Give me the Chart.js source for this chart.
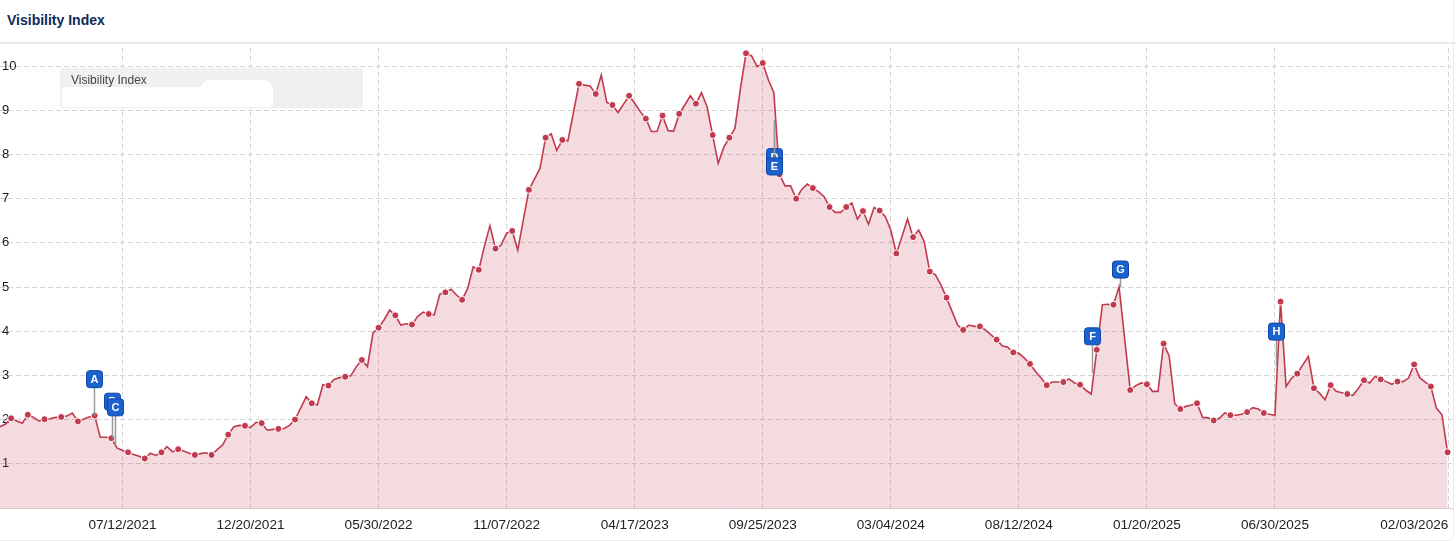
<!DOCTYPE html>
<html>
<head>
<meta charset="utf-8">
<title>Visibility Index</title>
<script src="https://cdn.jsdelivr.net/npm/chart.js@4.4.0/dist/chart.umd.min.js"></script>
<style>
  body { margin: 0; background: #fff; font-family: "Liberation Sans", Arial, sans-serif; }
  #page { position: relative; width: 1456px; height: 541px; overflow: hidden; }
  #panel { position: absolute; left: -10px; top: -10px; width: 1464px; height: 551px; box-sizing: border-box;
           border: 1px solid #ececec; border-radius: 6px; }
  #title { position: absolute; left: 7px; top: 12px; font-size: 14px; line-height: 16px; font-weight: bold; color: #0c2a5b; }
  #sep { position: absolute; left: 0; top: 42px; width: 1456px; height: 2px; background: #ebebeb; }
  #wrap { position: absolute; left: 0; top: 44px; width: 1456px; height: 497px; }
  #legend { position: absolute; left: 60px; top: 68px; width: 303px; height: 40px; background: #f0f0f0; border-radius: 4px; }
  #legend span { position: absolute; left: 11px; top: 5px; font-size: 12px; line-height: 14px; color: #444; }
  .blob { position: absolute; background: #fff; border-radius: 4px; }
</style>
</head>
<body>
<div id="page">
  <div id="panel"></div>
  <div id="title">Visibility Index</div>
  <div id="sep"></div>
  <div id="wrap"><canvas id="chart"></canvas></div>
  <div id="legend">
    <span>Visibility Index</span>
    <div class="blob" style="left:2px; top:19px; width:211px; height:20px;"></div>
    <div class="blob" style="left:140px; top:12px; width:73px; height:27px; border-radius:10px;"></div>
  </div>
</div>
<script>
// weekly values, first one is the week of 02/08/2021 (week -22, week 0 = 07/12/2021)
const firstWeek = -22;
const visibility = [
  1.84, 1.90, 2.03, 1.97, 1.92, 2.11, 2.05, 1.97, 2.01, 2.02,
  2.05, 2.06, 2.08, 2.15, 1.96, 2.01, 2.06, 2.09, 1.60, 1.60,
  1.58, 1.36, 1.30, 1.26, 1.21, 1.17, 1.12, 1.24, 1.19, 1.26,
  1.39, 1.27, 1.33, 1.29, 1.24, 1.20, 1.23, 1.25, 1.20, 1.32,
  1.43, 1.66, 1.84, 1.87, 1.86, 1.82, 1.94, 1.92, 1.76, 1.78,
  1.79, 1.80, 1.87, 2.00, 2.26, 2.52, 2.37, 2.33, 2.79, 2.77,
  2.91, 2.95, 2.97, 2.99, 3.20, 3.35, 3.20, 3.96, 4.08, 4.26,
  4.48, 4.36, 4.14, 4.17, 4.15, 4.33, 4.43, 4.39, 4.37, 4.84,
  4.88, 4.95, 4.82, 4.71, 4.97, 5.46, 5.39, 5.92, 6.39, 5.87,
  5.95, 6.22, 6.27, 5.84, 6.52, 7.20, 7.44, 7.69, 8.38, 8.47,
  8.09, 8.33, 8.31, 8.95, 9.60, 9.57, 9.55, 9.37, 9.80, 9.18,
  9.12, 8.95, 9.14, 9.33, 9.16, 8.97, 8.81, 8.52, 8.52, 8.88,
  8.54, 8.53, 8.92, 9.12, 9.33, 9.15, 9.40, 9.08, 8.44, 7.80,
  8.16, 8.38, 8.59, 9.50, 10.29, 10.23, 9.99, 10.07, 9.69, 9.40,
  7.55, 7.29, 7.29, 7.00, 7.21, 7.33, 7.24, 7.16, 7.05, 6.81,
  6.69, 6.69, 6.81, 6.90, 6.54, 6.72, 6.42, 6.80, 6.73, 6.60,
  6.29, 5.76, 6.14, 6.54, 6.13, 6.29, 6.03, 5.35, 5.28, 5.05,
  4.76, 4.45, 4.14, 4.03, 4.14, 4.11, 4.11, 4.03, 3.92, 3.81,
  3.67, 3.64, 3.52, 3.50, 3.39, 3.26, 3.09, 2.94, 2.78, 2.85,
  2.85, 2.85, 2.92, 2.83, 2.79, 2.67, 2.58, 3.58, 4.60, 4.61,
  4.60, 5.01, 3.84, 2.67, 2.77, 2.83, 2.80, 2.64, 2.64, 3.72,
  3.44, 2.36, 2.24, 2.30, 2.33, 2.37, 2.05, 2.04, 1.98, 2.03,
  2.15, 2.10, 2.10, 2.12, 2.17, 2.27, 2.24, 2.15, 2.12, 2.10,
  4.67, 2.75, 2.94, 3.04, 3.24, 3.43, 2.71, 2.60, 2.45, 2.78,
  2.64, 2.61, 2.58, 2.55, 2.71, 2.89, 2.83, 2.98, 2.91, 2.86,
  2.80, 2.86, 2.86, 2.94, 3.25, 2.95, 2.85, 2.75, 2.26, 2.11,
  1.26
];

// x axis ticks (in weeks from 07/12/2021)
const tickWeeks = [0, 23, 46, 69, 92, 115, 138, 161, 184, 207, 238.14];
const tickLabels = ['07/12/2021', '12/20/2021', '05/30/2022', '11/07/2022', '04/17/2023', '09/25/2023',
                    '03/04/2024', '08/12/2024', '01/20/2025', '06/30/2025', '02/03/2026'];
const yTicks = [1, 2, 3, 4, 5, 6, 7, 8, 9, 10];

// event flags
const flagLetters = ['A', 'B', 'C', 'D', 'E', 'F', 'G', 'H'];
const flagWeeks = [-5.1, -1.95, -1.35, 117.0, 117.0, 174.1, 179.1, 207.2];
const flagValues = [2.09, 1.58, 1.43, 8.78, 8.60, 3.06, 5.00, 3.20];
const flagBoxOffset = [-36.5, -36.5, -37.5, 37, 38.5, -36.5, -17.5, -35]; // px from the anchor

const xMin = -22, xMax = 238.8;
const lineColor = '#c13a4e';
const gridColor = '#d6d6d6';

const points = visibility.map((v, i) => ({ x: firstWeek + i, y: v }));

function boxPath(ctx, x, y, w, h, r) {
  ctx.beginPath();
  ctx.moveTo(x + r, y);
  ctx.lineTo(x + w - r, y);
  ctx.quadraticCurveTo(x + w, y, x + w, y + r);
  ctx.lineTo(x + w, y + h - r);
  ctx.quadraticCurveTo(x + w, y + h, x + w - r, y + h);
  ctx.lineTo(x + r, y + h);
  ctx.quadraticCurveTo(x, y + h, x, y + h - r);
  ctx.lineTo(x, y + r);
  ctx.quadraticCurveTo(x, y, x + r, y);
  ctx.closePath();
}

const flagPlugin = {
  id: 'flags',
  afterDatasetsDraw(chart) {
    const { ctx, scales: { x, y } } = chart;
    ctx.save();
    flagLetters.forEach((letter, i) => {
      const px = Math.round(x.getPixelForValue(flagWeeks[i])) + 0.5;
      const py = y.getPixelForValue(flagValues[i]);
      const cy = py + flagBoxOffset[i];
      ctx.strokeStyle = '#9a9a9a';
      ctx.lineWidth = 1.5;
      ctx.beginPath();
      ctx.moveTo(px, py);
      ctx.lineTo(px, cy);
      ctx.stroke();

      boxPath(ctx, px - 8, cy - 8.5, 16, 17, 3);
      ctx.fillStyle = '#1c62cf';
      ctx.fill();
      ctx.strokeStyle = '#1047a6';
      ctx.lineWidth = 1;
      ctx.stroke();

      ctx.fillStyle = '#fff';
      ctx.font = 'bold 11px "Liberation Sans", Arial, sans-serif';
      ctx.textAlign = 'center';
      ctx.textBaseline = 'middle';
      ctx.fillText(letter, px, cy + 0.5);
    });
    ctx.restore();
  }
};

// keep the plot area edge to edge: no extra room for labels
function noPad(scale) {
  scale.paddingLeft = 0;
  scale.paddingRight = 0;
  scale.paddingTop = 0;
  scale.paddingBottom = 0;
}

Chart.defaults.font.family = '"Liberation Sans", Arial, sans-serif';

new Chart(document.getElementById('chart'), {
  type: 'line',
  data: {
    datasets: [{
      label: 'Visibility Index',
      data: points,
      borderColor: lineColor,
      borderWidth: 1.6,
      backgroundColor: 'rgba(193, 58, 78, 0.18)',
      fill: 'origin',
      tension: 0,
      pointRadius: ctx => ((ctx.raw.x + 20) % 3 === 0 ? 3.5 : 0),
      pointBackgroundColor: lineColor,
      pointBorderColor: '#fff',
      pointBorderWidth: 1
    }]
  },
  options: {
    responsive: true,
    maintainAspectRatio: false,
    animation: false,
    events: [],
    layout: { autoPadding: false, padding: { top: 4, left: 0, right: 4, bottom: 0 } },
    plugins: {
      legend: { display: false },
      tooltip: { enabled: false },
      title: { display: false }
    },
    scales: {
      x: {
        type: 'linear',
        min: xMin,
        max: xMax,
        afterBuildTicks: scale => {
          scale.ticks = [{ value: xMin }].concat(tickWeeks.map(v => ({ value: v })));
        },
        afterFit: scale => { scale.height = 33; noPad(scale); },
        ticks: {
          autoSkip: false,
          maxRotation: 0,
          align: 'inner',
          padding: 9,
          color: '#222',
          font: { size: 13.6 },
          callback: (value, index) => (index === 0 ? '' : tickLabels[index - 1])
        },
        grid: {
          color: ctx => (ctx.index === 0 ? 'rgba(0,0,0,0)' : gridColor),
          drawTicks: false,
          lineWidth: 1
        },
        border: { display: true, color: '#dcc9cc', dash: [5, 3] }
      },
      y: {
        min: 0,
        max: 10.41,
        afterBuildTicks: scale => { scale.ticks = yTicks.map(v => ({ value: v })); },
        afterFit: scale => { scale.width = 0; noPad(scale); },
        ticks: {
          mirror: true,
          padding: 2,
          color: '#1a1a1a',
          font: { size: 13 }
        },
        grid: { color: gridColor, drawTicks: false, lineWidth: 1 },
        border: { display: false, dash: [5, 3] }
      }
    }
  },
  plugins: [flagPlugin]
});
</script>
</body>
</html>
